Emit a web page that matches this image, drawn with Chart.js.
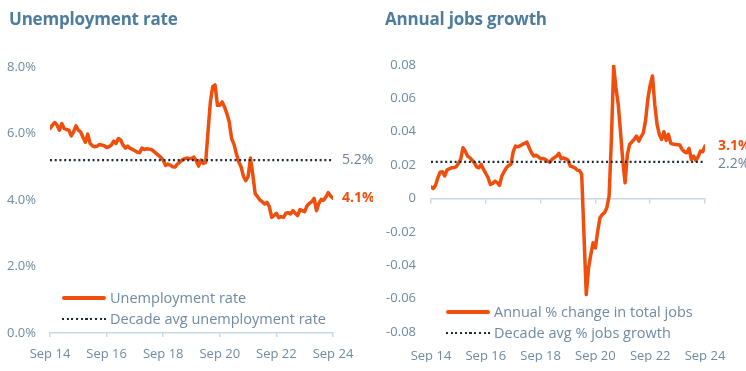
<!DOCTYPE html>
<html>
<head>
<meta charset="utf-8">
<script src="https://cdn.jsdelivr.net/npm/chart.js@4.4.0/dist/chart.umd.min.js"></script>
<style>
  body { margin: 0; width: 746px; height: 371px; background: #fff; overflow: hidden; position: relative;
         font-family: 'Open Sans', sans-serif; }
  .panel { position: absolute; top: 0; width: 373px; height: 371px; }
  .title { position: absolute; top: 7px; font-size: 17px; font-weight: 700; color: #4d7c9d; letter-spacing: -0.2px; }
  .legend { position: absolute; font-size: 14.5px; color: #6f8aa2; }
  .legend .row { display: flex; align-items: center; height: 21px; }
  .legend .solid { width: 44px; height: 4px; background: #f04e0c; border-radius: 2px; margin-right: 4px; }
  .legend .dots { width: 44px; height: 2px; margin-right: 4px;
                  background: repeating-linear-gradient(to right, #1d2b36 0 2px, transparent 2px 4.7px); }
  canvas { position: absolute; left: 0; top: 0; }
</style>
</head>
<body>
<div class="panel" style="left:0">
  <canvas id="unempChart" width="373" height="371"></canvas>
  <div class="title" style="left:9px">Unemployment rate</div>
  <div class="legend" style="left:62px; top:287px">
    <div class="row"><span class="solid"></span>Unemployment rate</div>
    <div class="row"><span class="dots"></span>Decade avg unemployment rate</div>
  </div>
</div>
<div class="panel" style="left:373px">
  <canvas id="jobsChart" width="373" height="371"></canvas>
  <div class="title" style="left:12px">Annual jobs growth</div>
  <div class="legend" style="left:73px; top:301px">
    <div class="row"><span class="solid"></span>Annual % change in total jobs</div>
    <div class="row"><span class="dots"></span>Decade avg % jobs growth</div>
  </div>
</div>
<script>
// ── Data (monthly, Sep 14 → Sep 24) ─────────────────────────────────────────
const tickLabels = ['Sep 14', 'Sep 16', 'Sep 18', 'Sep 20', 'Sep 22', 'Sep 24'];

const unempRate = [
  6.15, 6.25, 6.33, 6.25, 6.10, 6.30, 6.15, 6.12, 6.10, 5.93,
  6.05, 6.23, 6.10, 6.05, 5.88, 5.74, 5.98, 5.70, 5.63, 5.60,
  5.62, 5.67, 5.65, 5.63, 5.58, 5.60, 5.65, 5.77, 5.70, 5.85,
  5.80, 5.65, 5.56, 5.62, 5.55, 5.52, 5.48, 5.44, 5.42, 5.56,
  5.52, 5.54, 5.53, 5.52, 5.46, 5.40, 5.34, 5.28, 5.20, 5.04,
  5.08, 5.05, 5.00, 4.99, 5.08, 5.14, 5.20, 5.24, 5.26, 5.25,
  5.25, 5.29, 5.18, 5.02, 5.20, 5.10, 5.13, 6.05, 6.95, 7.41,
  7.46, 6.85, 6.85, 6.95, 6.80, 6.60, 6.35, 5.85, 5.68, 5.40,
  5.15, 5.00, 4.72, 4.58, 4.70, 5.26, 4.76, 4.19, 4.10, 4.00,
  3.95, 3.88, 3.93, 3.80, 3.48, 3.53, 3.60, 3.47, 3.50, 3.48,
  3.60, 3.62, 3.58, 3.68, 3.60, 3.53, 3.71, 3.68, 3.65, 3.83,
  3.90, 3.95, 4.05, 3.68, 3.90, 4.02, 3.99, 4.09, 4.22, 4.12,
  4.05
];
const unempAvg = 5.2;

const jobsGrowth = [
  0.0070, 0.0060, 0.0080, 0.0124, 0.0158, 0.0160, 0.0135, 0.0170, 0.0178, 0.0184,
  0.0185, 0.0190, 0.0210, 0.0234, 0.0304, 0.0284, 0.0254, 0.0245, 0.0230, 0.0214,
  0.0190, 0.0184, 0.0204, 0.0174, 0.0150, 0.0124, 0.0084, 0.0090, 0.0104, 0.0095,
  0.0078, 0.0134, 0.0160, 0.0184, 0.0198, 0.0204, 0.0280, 0.0314, 0.0310, 0.0315,
  0.0324, 0.0330, 0.0338, 0.0304, 0.0274, 0.0254, 0.0260, 0.0250, 0.0238, 0.0240,
  0.0234, 0.0225, 0.0218, 0.0234, 0.0245, 0.0254, 0.0270, 0.0238, 0.0244, 0.0238,
  0.0230, 0.0194, 0.0190, 0.0184, 0.0170, 0.0168, 0.0144, -0.0220, -0.0576, -0.0416,
  -0.0336, -0.0266, -0.0296, -0.0196, -0.0116, -0.0096, -0.0085, -0.0056, 0.0014, 0.0350,
  0.0794, 0.0664, 0.0564, 0.0400, 0.0224, 0.0094, 0.0264, 0.0324, 0.0340, 0.0354,
  0.0374, 0.0344, 0.0370, 0.0394, 0.0470, 0.0600, 0.0680, 0.0734, 0.0564, 0.0444,
  0.0384, 0.0354, 0.0400, 0.0348, 0.0384, 0.0330, 0.0326, 0.0324, 0.0322, 0.0320,
  0.0294, 0.0280, 0.0274, 0.0300, 0.0234, 0.0254, 0.0228, 0.0250, 0.0284, 0.0280,
  0.0314
];
const jobsAvg = 0.022;

const unempEndText = ['5.2%', '4.1%'];
const jobsEndText  = ['3.1%', '2.2%'];

// ── Styles ───────────────────────────────────────────────────────────────────
const ORANGE = '#f04e0c';
const DOTS   = '#1d2b36';
const TICK   = '#6f8aa2';
const AXIS   = '#c9d7e4';
const FONT   = "'Open Sans', sans-serif";
const LAST   = unempRate.length - 1;

const toXY = arr => arr.map((v, i) => ({ x: i, y: v }));
const flat = v => [{ x: 0, y: v }, { x: LAST, y: v }];

// end-of-line labels, placed from the y scale
const endLabels = {
  id: 'endLabels',
  afterDatasetsDraw(chart, args, opts) {
    const { ctx, chartArea, scales } = chart;
    ctx.save();
    ctx.textBaseline = 'middle';
    ctx.textAlign = 'left';
    opts.items.forEach(it => {
      ctx.font = (it.bold ? '700 ' : '400 ') + '14px ' + FONT;
      ctx.fillStyle = it.color;
      ctx.fillText(it.text, chartArea.right + opts.gap, scales.y.getPixelForValue(it.value) + (it.dy || 0));
    });
    ctx.restore();
  }
};

function lineSets(values, avg) {
  return [
    { data: toXY(values), borderColor: ORANGE, borderWidth: 3.5, pointRadius: 0,
      tension: 0, borderJoinStyle: 'round', borderCapStyle: 'round', order: 1 },
    { data: flat(avg), borderColor: DOTS, borderWidth: 2.2, borderDash: [2, 2.73],
      pointRadius: 0, order: 0 }
  ];
}

function xTicks(cb, pad) {
  return { type: 'linear', min: 0, max: LAST,
           ticks: { stepSize: 24, padding: pad, color: TICK, font: { family: FONT, size: 13 },
                    maxRotation: 0, callback: cb } };
}

const tickText = v => tickLabels[Math.round(v / 24)];

// ── Unemployment chart ───────────────────────────────────────────────────────
new Chart(document.getElementById('unempChart'), {
  type: 'line',
  data: { datasets: lineSets(unempRate, unempAvg) },
  options: {
    responsive: false, animation: false,
    layout: { padding: { top: 67, right: 40, left: 5, bottom: 8 } },
    plugins: {
      legend: { display: false }, tooltip: { enabled: false },
      endLabels: { gap: 9, items: [
        { value: unempAvg, text: unempEndText[0], color: '#6b8196' },
        { value: unempRate[LAST], text: unempEndText[1], color: ORANGE, bold: true }
      ] }
    },
    scales: {
      x: Object.assign(xTicks(tickText, 9), {
        grid: { display: true, drawOnChartArea: false, drawTicks: true, tickLength: 4, color: AXIS, lineWidth: 1.5 },
        border: { display: true, color: AXIS, width: 1.5 },
        afterFit: s => { s.height = 30; }
      }),
      y: { min: 0, max: 8,
           ticks: { stepSize: 2, padding: 14, color: TICK, font: { family: FONT, size: 13 },
                    callback: v => v.toFixed(1) + '%' },
           grid: { display: false, drawTicks: false }, border: { display: false },
           afterFit: s => { s.width = 45; } }
    }
  },
  plugins: [endLabels]
});

// ── Jobs growth chart ────────────────────────────────────────────────────────
new Chart(document.getElementById('jobsChart'), {
  type: 'line',
  data: { datasets: lineSets(jobsGrowth, jobsAvg) },
  options: {
    responsive: false, animation: false,
    layout: { padding: { top: 65, right: 41, left: 5, bottom: 9 } },
    plugins: {
      legend: { display: false }, tooltip: { enabled: false },
      endLabels: { gap: 13, items: [
        { value: jobsGrowth[LAST], text: jobsEndText[0], color: ORANGE, bold: true },
        { value: jobsAvg, text: jobsEndText[1], color: '#6b8196', dy: 2 }
      ] }
    },
    scales: {
      x: Object.assign(xTicks(tickText, 16), {
        grid: { display: false, drawTicks: false },
        border: { display: false },
        afterFit: s => { s.height = 30; }
      }),
      // zero line with tick marks
      x0: Object.assign(xTicks(() => '', 0), {
        position: { y: 0 },
        grid: { display: true, drawOnChartArea: false, drawTicks: true, tickLength: 4, color: AXIS, lineWidth: 1.5 },
        border: { display: true, color: AXIS, width: 1.5 }
      }),
      y: { min: -0.08, max: 0.08,
           ticks: { stepSize: 0.02, padding: 15, color: TICK, font: { family: FONT, size: 13 },
                    callback: v => Math.abs(v) < 1e-9 ? '0' : v.toFixed(2) },
           grid: { display: false, drawTicks: false }, border: { display: false },
           afterFit: s => { s.width = 53; } }
    }
  },
  plugins: [endLabels]
});
</script>
</body>
</html>
